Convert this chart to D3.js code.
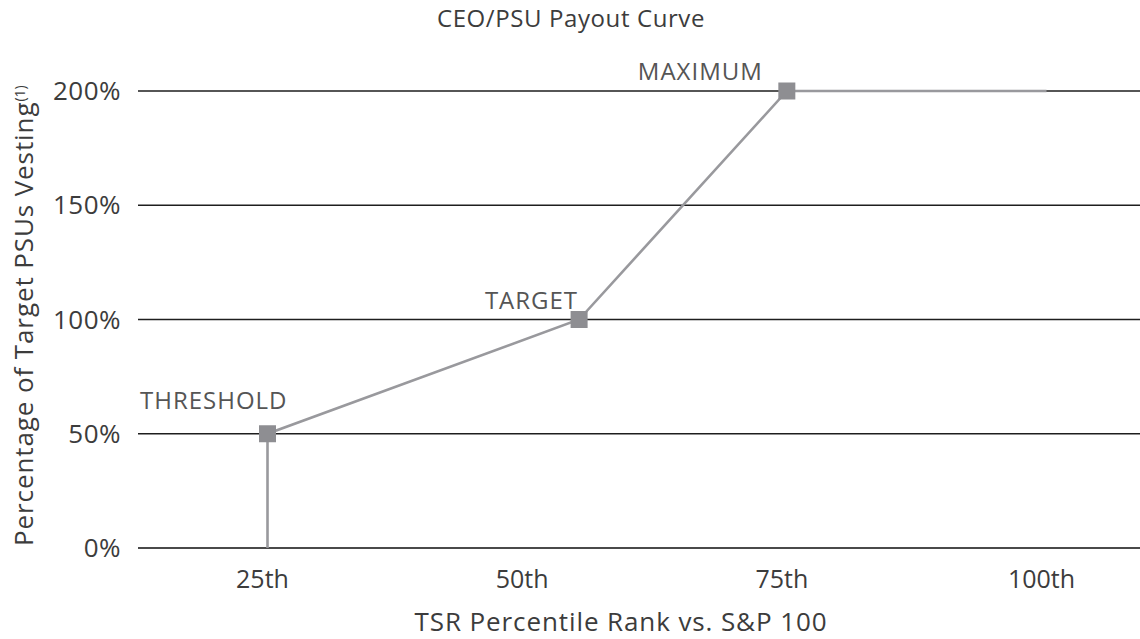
<!DOCTYPE html>
<html>
<head>
<meta charset="utf-8">
<script src="https://cdn.jsdelivr.net/npm/d3@7"></script>
<style>
  html, body { margin: 0; padding: 0; background: #fff; }
  svg { display: block; font-family: "Open Sans", Roboto, sans-serif; }
</style>
</head>
<body>
<svg id="chart" width="1140" height="639"></svg>
<script>
// Payout curve: TSR percentile rank -> % of target PSUs vesting
const percentile = [25, 25, 55, 75, 100];
const vesting    = [0, 50, 100, 200, 200];

// Labelled performance levels
const levelNames      = ["THRESHOLD", "TARGET", "MAXIMUM"];
const levelPercentile = [25, 55, 75];
const levelVesting    = [50, 100, 200];

// Axis ticks
const xTicks = [25, 50, 75, 100];
const xTickLabels = ["25th", "50th", "75th", "100th"];
const yTicks = [0, 50, 100, 150, 200];

const plotLeft = 138, plotRight = 1140;

const svg = d3.select("#chart");

const x = d3.scaleLinear().domain([25, 100]).range([267.5, 1046.5]);
const y = d3.scaleLinear().domain([0, 200]).range([548, 91]);

// Title
svg.append("text")
  .attr("x", 571).attr("y", 27)
  .attr("text-anchor", "middle")
  .attr("fill", "#3c3c3c")
  .style("font-size", "24px")
  .style("letter-spacing", "0.6px")
  .text("CEO/PSU Payout Curve");

// Horizontal gridlines
svg.append("g").selectAll("line")
  .data(yTicks)
  .join("line")
  .attr("x1", plotLeft).attr("x2", plotRight)
  .attr("y1", d => y(d)).attr("y2", d => y(d))
  .attr("stroke", d => d === 0 ? "#4a4a4a" : "#1e1e1e")
  .attr("stroke-width", d => d === 0 ? 2 : 1.3);

// Y tick labels
svg.append("g").selectAll("text")
  .data(yTicks)
  .join("text")
  .attr("x", 121)
  .attr("y", d => y(d))
  .attr("dy", "0.35em")
  .attr("text-anchor", "end")
  .attr("fill", "#3c3c3c")
  .style("font-size", "26px")
  .style("letter-spacing", "0.5px")
  .text(d => d + "%");

// X tick labels
svg.append("g").selectAll("text")
  .data(xTicks)
  .join("text")
  .attr("x", d => x(d) - 5)
  .attr("y", 588)
  .attr("text-anchor", "middle")
  .attr("fill", "#3c3c3c")
  .style("font-size", "25px")
  .text((d, i) => xTickLabels[i]);

// Y axis title with footnote marker
const yTitle = svg.append("text")
  .attr("transform", `translate(33, 546) rotate(-90)`)
  .attr("text-anchor", "start")
  .attr("fill", "#3c3c3c")
  .style("font-size", "26px")
  .style("letter-spacing", "0.9px");
yTitle.append("tspan").text("Percentage of Target PSUs Vesting");
yTitle.append("tspan")
  .attr("dy", "-0.55em")
  .style("font-size", "14px")
  .style("letter-spacing", "0px")
  .text("(1)");

// X axis title
svg.append("text")
  .attr("x", 621).attr("y", 631)
  .attr("text-anchor", "middle")
  .attr("fill", "#3c3c3c")
  .style("font-size", "26px")
  .style("letter-spacing", "0.9px")
  .text("TSR Percentile Rank vs. S&P 100");

// Payout curve
const line = d3.line()
  .x((d, i) => x(percentile[i]))
  .y((d, i) => y(vesting[i]));

svg.append("path")
  .datum(vesting)
  .attr("d", line)
  .attr("fill", "none")
  .attr("stroke", "#99999d")
  .attr("stroke-width", 2.6);

// Level markers
const m = 17;
svg.append("g").selectAll("rect")
  .data(levelPercentile)
  .join("rect")
  .attr("x", d => x(d) - m / 2)
  .attr("y", (d, i) => y(levelVesting[i]) - m / 2)
  .attr("width", m).attr("height", m)
  .attr("fill", "#8e8e92");

// Level labels
const labelDx = [20, -1, -24];
const labelDy = [-25, -11, -11];
svg.append("g").selectAll("text")
  .data(levelNames)
  .join("text")
  .attr("x", (d, i) => x(levelPercentile[i]) + labelDx[i])
  .attr("y", (d, i) => y(levelVesting[i]) + labelDy[i])
  .attr("text-anchor", "end")
  .attr("fill", "#555")
  .style("font-size", "24px")
  .style("letter-spacing", "1px")
  .text(d => d);
</script>
</body>
</html>
